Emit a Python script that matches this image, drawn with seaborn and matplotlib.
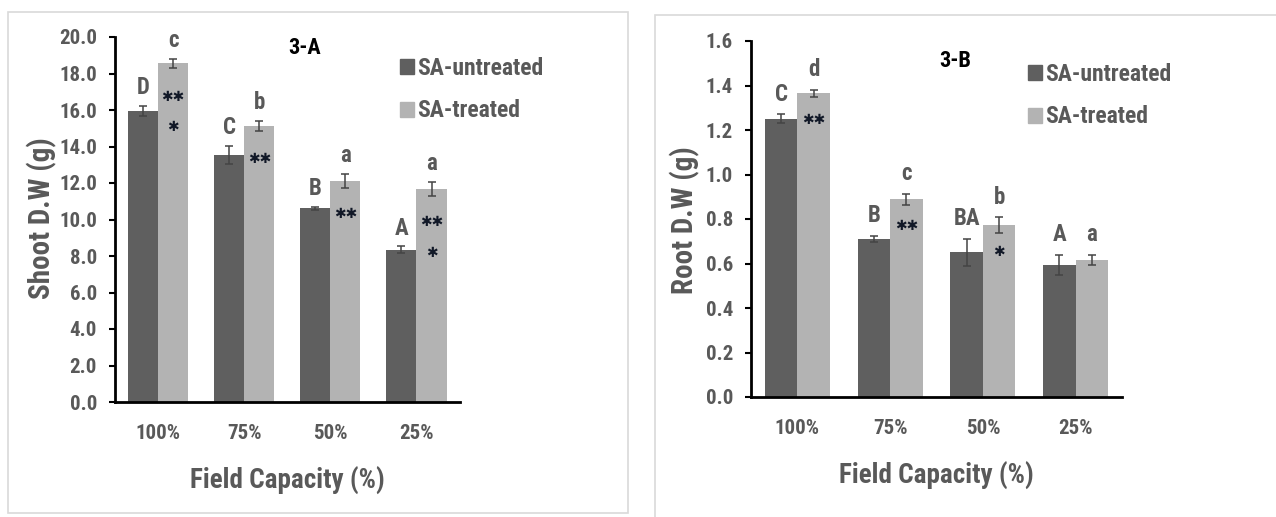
import matplotlib
matplotlib.use("Agg")
import matplotlib.pyplot as plt
import matplotlib.patches as mpatches
import seaborn as sns
import pandas as pd

# Field capacity levels and treatment groups
capacity = ["100%", "75%", "50%", "25%"]
groups = ["SA-untreated", "SA-treated"]

# Shoot dry weight (g)
shoot_untreated = [15.95, 13.55, 10.62, 8.35]
shoot_treated = [18.55, 15.12, 12.12, 11.68]
shoot_err_untreated = [0.28, 0.50, 0.08, 0.18]
shoot_err_treated = [0.25, 0.28, 0.38, 0.38]
shoot_letters_untreated = ["D", "C", "B", "A"]
shoot_letters_treated = ["c", "b", "a", "a"]
shoot_stars = [["✱✱", "✱"], ["✱✱"], ["✱✱"], ["✱✱", "✱"]]

# Root dry weight (g)
root_untreated = [1.25, 0.71, 0.65, 0.595]
root_treated = [1.365, 0.888, 0.772, 0.617]
root_err_untreated = [0.02, 0.012, 0.06, 0.045]
root_err_treated = [0.015, 0.025, 0.035, 0.022]
root_letters_untreated = ["C", "B", "BA", "A"]
root_letters_treated = ["d", "c", "b", "a"]
root_stars = [["✱✱"], ["✱✱"], ["✱"], []]

DARK = "#5f5f5f"
LIGHT = "#b3b3b3"
TXT = "#595959"
FONT = ["Roboto Condensed", "Open Sans Condensed", "Lato", "DejaVu Sans"]

sns.set_theme(style="white")
plt.rcParams["font.family"] = FONT

W, H = 1276, 517
fig = plt.figure(figsize=(W / 100, H / 100), dpi=100)


def fx(px):
    return px / W


def fy(py):
    return 1 - py / H


# light frames around each panel
fig.patches.append(mpatches.Rectangle((fx(8), fy(513)), fx(620), 501 / H,
                                      transform=fig.transFigure, fill=False,
                                      edgecolor="#d9d9d9", lw=1.2))
fig.patches.append(mpatches.Rectangle((fx(655), -0.01), 0.5, fy(15) + 0.01,
                                      transform=fig.transFigure, fill=False,
                                      edgecolor="#d9d9d9", lw=1.2))


def panel(ax, unt, trt, eu, et, lu, lt, stars, ylim, yticks, ylabel, title,
          title_xy, legend_xy, letter_off, star_offsets, ylabel_xy):
    df = pd.DataFrame({
        "Field Capacity (%)": capacity * 2,
        "value": unt + trt,
        "group": [groups[0]] * 4 + [groups[1]] * 4,
    })
    sns.barplot(data=df, x="Field Capacity (%)", y="value", hue="group",
                order=capacity, hue_order=groups, palette=[DARK, LIGHT],
                errorbar=None, width=0.7, saturation=1, linewidth=0,
                ax=ax, legend=False)
    for cont, vals, errs, letters in zip(ax.containers, [unt, trt], [eu, et], [lu, lt]):
        xs = [b.get_x() + b.get_width() / 2 for b in cont]
        ax.errorbar(xs, vals, yerr=errs, fmt="none", ecolor="#444444",
                    elinewidth=1.1, capsize=3, capthick=1.1)
        for x, v, e, lab in zip(xs, vals, errs, letters):
            ax.annotate(lab, (x, v + e), xytext=(0, letter_off), textcoords="offset points",
                        ha="center", va="baseline", fontsize=16.5, fontweight="bold",
                        color=TXT)
    trt_x = [b.get_x() + b.get_width() / 2 for b in ax.containers[1]]
    for x, v, st in zip(trt_x, trt, stars):
        for k, s in enumerate(st):
            ax.annotate(s, (x, v), xytext=(0, star_offsets[k]), textcoords="offset points",
                        ha="center", va="center", fontsize=10, color="#111827",
                        family="DejaVu Sans")
    ax.set_ylim(*ylim)
    ax.set_xlim(-0.5, 3.5)
    ax.set_yticks(yticks)
    ax.set_yticklabels([f"{t:.1f}" for t in yticks])
    ax.tick_params(axis="y", left=True, length=4, width=1.5, color="black",
                   labelsize=15, labelcolor=TXT, pad=9)
    ax.tick_params(axis="x", bottom=False, length=0, labelsize=15, labelcolor=TXT, pad=16)
    for lab in ax.get_xticklabels() + ax.get_yticklabels():
        lab.set_fontweight("bold")
    for side in ["top", "right"]:
        ax.spines[side].set_visible(False)
    for side in ["left", "bottom"]:
        ax.spines[side].set_color("black")
        ax.spines[side].set_linewidth(2.0)
    ax.set_xlabel("Field Capacity (%)", fontsize=19.5, fontweight="bold", color=TXT,
                  labelpad=17)
    ax.set_ylabel(ylabel, fontsize=21, fontweight="bold", color=TXT, va="center")
    ax.yaxis.set_label_coords(ylabel_xy[0], ylabel_xy[1], transform=fig.transFigure)
    fig.text(title_xy[0], title_xy[1], title, fontsize=16, fontweight="bold",
             color="black", ha="center", va="center")
    handles = [mpatches.Patch(color=DARK, label=groups[0]),
               mpatches.Patch(color=LIGHT, label=groups[1])]
    leg = fig.legend(handles=handles, loc="upper left", bbox_to_anchor=legend_xy,
                     frameon=False, fontsize=17, handlelength=0.6, handleheight=0.6,
                     handletextpad=0.12, labelspacing=0.82, borderpad=0, borderaxespad=0)
    for t in leg.get_texts():
        t.set_color(TXT)
        t.set_fontweight("bold")


ax1 = fig.add_axes([fx(115), fy(402), fx(344.5), 365 / H])
panel(ax1, shoot_untreated, shoot_treated, shoot_err_untreated, shoot_err_treated,
      shoot_letters_untreated, shoot_letters_treated, shoot_stars,
      (0, 20), [0, 2, 4, 6, 8, 10, 12, 14, 16, 18, 20], "Shoot D.W (g)",
      "3-A", (fx(305), fy(48)), (fx(400), fy(57)), 8.5, [-24, -46],
      (fx(42), fy(218)))

ax2 = fig.add_axes([fx(751), fy(397), fx(371), 356 / H])
panel(ax2, root_untreated, root_treated, root_err_untreated, root_err_treated,
      root_letters_untreated, root_letters_treated, root_stars,
      (0, 1.6), [0, 0.2, 0.4, 0.6, 0.8, 1.0, 1.2, 1.4, 1.6], "Root D.W (g)",
      "3-B", (fx(955), fy(61)), (fx(1028), fy(63)), 10, [-19, -38],
      (fx(685), fy(220)))

fig.savefig("out.png", dpi=100)
